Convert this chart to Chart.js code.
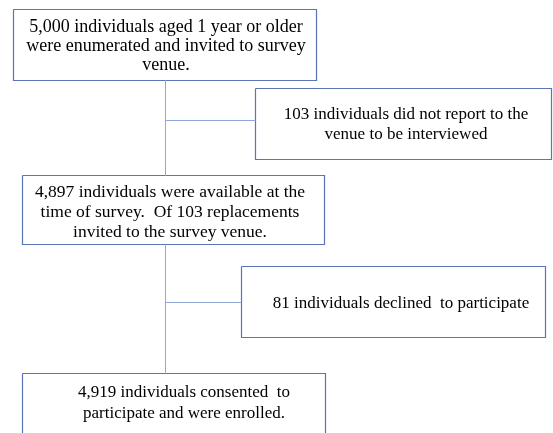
<!DOCTYPE html>
<html>
<head>
<meta charset="utf-8">
<script src="https://cdn.jsdelivr.net/npm/chart.js@4"></script>
<style>
  html, body { margin: 0; padding: 0; background: #fff; }
  #wrap { width: 553px; height: 433px; }
</style>
</head>
<body>
<div id="wrap"><canvas id="chart"></canvas></div>
<script>
// ========================== DATA ==========================
const stepCounts = [5000, 103, 4897, 81, 4919];
const stepTexts = [
  ["5,000 individuals aged 1 year or older", "were enumerated and invited to survey", "venue."],
  ["103 individuals did not report to the", "venue to be interviewed"],
  ["4,897 individuals were available at the", "time of survey.  Of 103 replacements", "invited to the survey venue."],
  ["81 individuals declined  to participate"],
  ["4,919 individuals consented  to", "participate and were enrolled."]
];

// ========================== LAYOUT (page units) ==========================
// [left, top, right, bottom] of each box, text centre x, first line y
const boxes = [
  [13.5, 9.5, 316.5, 80.5],
  [255.5, 88.5, 551.5, 159.5],
  [22.5, 175.5, 324.5, 244.5],
  [241.5, 266.5, 545.5, 337.5],
  [22.5, 373.5, 325.5, 460]
];
const textX = [166, 406, 170, 401, 184];
const textY = [27, 115, 192, 304, 393];
const fontPx = [18, 17, 17.5, 17, 17];
const lineH = [19, 20, 20, 20, 21];

// connectors: trunk + branches
const connectors = [
  [[165.5, 80.5], [165.5, 175.5]],
  [[165.5, 120.5], [255.5, 120.5]],
  [[165.5, 244.5], [165.5, 373.5]],
  [[165.5, 302.5], [241.5, 302.5]]
];

const BORDER = "#5a74b6";
const CONNECT = "#92a6da";

// ========================== DATASETS ==========================
const datasets = [];

connectors.forEach(c => {
  datasets.push({
    data: c.map(p => ({ x: p[0], y: p[1] })),
    showLine: true,
    borderColor: CONNECT,
    borderWidth: 1,
    pointRadius: 0,
    fill: false
  });
});

boxes.forEach(b => {
  datasets.push({
    data: [
      { x: b[0], y: b[1] }, { x: b[2], y: b[1] },
      { x: b[2], y: b[3] }, { x: b[0], y: b[3] }, { x: b[0], y: b[1] }
    ],
    showLine: true,
    borderColor: BORDER,
    borderWidth: 1.2,
    backgroundColor: "#ffffff",
    fill: true,
    pointRadius: 0,
    tension: 0
  });
});

// ========================== TEXT PLUGIN ==========================
const boxText = {
  id: "boxText",
  afterDatasetsDraw(chart) {
    const { ctx, scales: { x, y } } = chart;
    ctx.save();
    ctx.fillStyle = "#000";
    ctx.textAlign = "center";
    ctx.textBaseline = "middle";
    stepTexts.forEach((lines, i) => {
      ctx.font = fontPx[i] + "px 'Liberation Serif', 'Times New Roman', serif";
      lines.forEach((t, j) => {
        ctx.fillText(t, x.getPixelForValue(textX[i]), y.getPixelForValue(textY[i] + j * lineH[i]));
      });
    });
    ctx.restore();
  }
};

// ========================== CHART ==========================
new Chart(document.getElementById("chart"), {
  type: "scatter",
  data: { datasets },
  options: {
    responsive: true,
    maintainAspectRatio: false,
    animation: false,
    layout: { padding: 0 },
    plugins: { legend: { display: false }, tooltip: { enabled: false } },
    scales: {
      x: { type: "linear", min: 0, max: 553, display: false },
      y: { type: "linear", min: 0, max: 433, reverse: true, display: false }
    }
  },
  plugins: [boxText]
});
</script>
</body>
</html>
